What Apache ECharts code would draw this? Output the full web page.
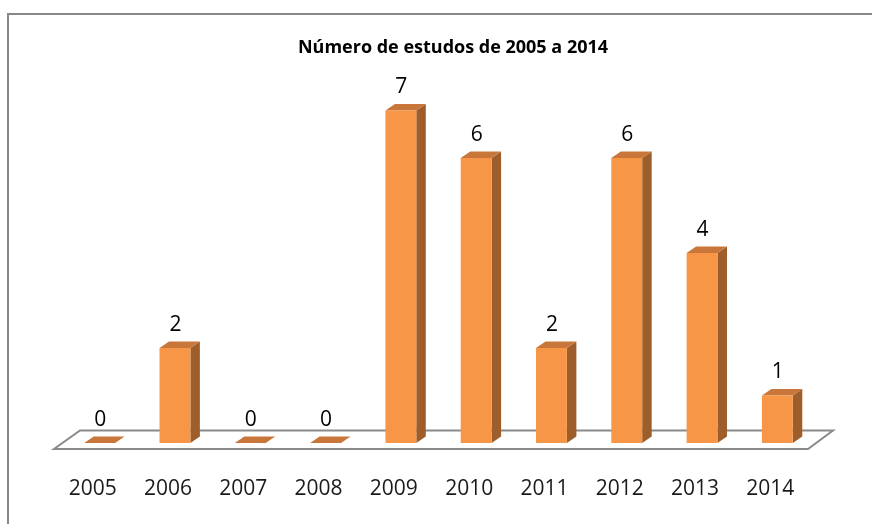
<!DOCTYPE html>
<html><head><meta charset="utf-8">
<script src="https://cdn.jsdelivr.net/npm/echarts@6/dist/echarts.min.js"></script>
<style>html,body{margin:0;padding:0;background:#fff}#c{width:872px;height:524px;position:relative}
#frame{position:absolute;left:7px;top:13px;width:900px;height:600px;border:2px solid #888;box-sizing:border-box;pointer-events:none}</style>
</head><body><div id="c"></div><div id="frame" style="position:absolute"></div>
<script>
const title = 'Número de estudos de 2005 a 2014';
const categories = ['2005','2006','2007','2008','2009','2010','2011','2012','2013','2014'];
const values = [0,2,0,0,7,6,2,6,4,1];

const chart = echarts.init(document.getElementById('c'));
const FRONT='#F79646', SIDE='#9E5E2C', TOP='#C8763A';
const DX=9.5, DY=-6.5;

function barItem(params, api){
  const x = api.value(0), v = api.value(1);
  const p0 = api.coord([x,0]);
  const p1 = api.coord([x,v]);
  const bw = api.size([1,0])[0]*0.41;
  const l = p0[0]-bw/2 - 1, r = l+bw, b = p0[1], t = p1[1];
  return {type:'group', children:[
    {type:'polygon', shape:{points:[[r,b],[r+DX,b+DY],[r+DX,t+DY],[r,t]]}, style:{fill:SIDE}},
    {type:'polygon', shape:{points:[[l,t],[r,t],[r+DX,t+DY],[l+DX,t+DY]]}, style:{fill:TOP}},
    {type:'rect', shape:{x:l,y:t,width:bw,height:b-t}, style:{fill:FRONT}},
    {type:'text', style:{text:String(v), x:l+bw/2+0.5, y:t-23, align:'center', verticalAlign:'middle',
      font:'21px "Open Sans"', fill:'#000'}}
  ]};
}
function floorItem(params, api){
  const n = categories.length;
  const w = api.size([1,0])[0];
  const a = api.coord([0,0]), z = api.coord([n-1,0]);
  const xl = a[0]-w/2, xr = z[0]+w/2, y = a[1];
  const fl = xl-9, fr = xr-8, fy = y+6;
  return {type:'polygon', shape:{points:[[fl,fy],[fr,fy],[fr+25,fy-18.5],[fl+26,fy-18.5]]},
    style:{fill:'#fff', stroke:'#8a8a8a', lineWidth:2}, z2:-1};
}
chart.setOption({
  animation:false,
  title:{text:title, left:448, top:34, textAlign:'center',
    textStyle:{fontFamily:'Open Sans', fontSize:18, fontWeight:'bold', color:'#000'}},
  grid:{left:63, right:56, top:63, bottom:81},
  xAxis:{type:'category', data:categories, axisLine:{show:false}, axisTick:{show:false},
    axisLabel:{fontFamily:'Open Sans', fontSize:21, color:'#1a1a1a', margin:36, padding:[0,16,0,0]}},
  yAxis:{type:'value', min:0, max:8, show:false, splitLine:{show:false}},
  series:[
    {type:'custom', renderItem:floorItem, data:[[0,0]], z:1, silent:true},
    {type:'custom', renderItem:barItem, data:categories.map((c,i)=>[i,values[i]]), z:2,
     encode:{x:0,y:1}}
  ]
});
</script></body></html>
